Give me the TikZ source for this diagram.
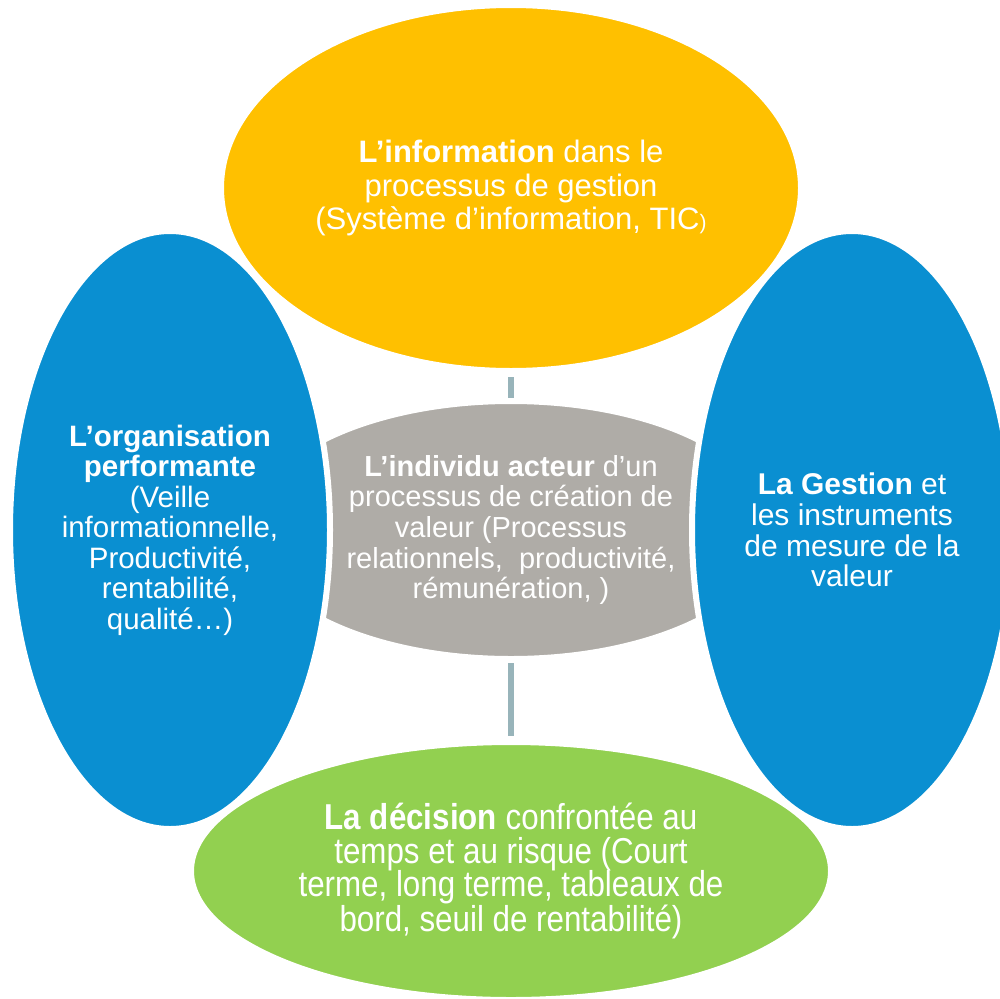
\documentclass[tikz,border=0pt]{standalone}
\usepackage{fontspec}
\setmainfont{Liberation Sans}
\newfontfamily\narrowfont[FakeStretch=0.87]{Liberation Sans}
\usetikzlibrary{shapes.geometric}
\definecolor{cyellow}{HTML}{FFC000}
\definecolor{cblue}{HTML}{0A8FD1}
\definecolor{cgreen}{HTML}{92D050}
\definecolor{cgray}{HTML}{AFACA7}
\definecolor{clink}{HTML}{98B4BA}
\begin{document}
\begin{tikzpicture}[x=1pt,y=-1pt,
  blob/.style={ellipse, draw=white, line width=6pt, inner sep=0pt, text=white, align=center},
  link/.style={draw=clink, line width=6pt}]
\useasboundingbox (0,0) rectangle (1000,998);
\clip (0,0) rectangle (1000,998);
\node[blob, fill=cgray, minimum width=524pt, minimum height=258pt,
  font=\fontsize{29}{30.6}\selectfont] (ind) at (511,530)
  {\textbf{L’individu acteur} d’un\\processus de création de\\valeur (Processus\\relationnels,~ productivité,\\rémunération, )};
\node[blob, fill=cyellow, minimum width=580pt, minimum height=366pt,
  font=\fontsize{31}{33.5}\selectfont] (info) at (511,188)
  {\textbf{L’information} dans le\\processus de gestion\\(Système d’information, TIC{\fontsize{21}{21}\selectfont)}};
\node[blob, fill=cblue, minimum width=320pt, minimum height=598pt,
  font=\fontsize{29.5}{30.5}\selectfont] (org) at (170,530)
  {\textbf{L’organisation}\\\textbf{performante}\\(Veille\\informationnelle,\\Productivité,\\rentabilité,\\qualité…)};
\node[blob, fill=cblue, minimum width=320pt, minimum height=598pt,
  font=\fontsize{30}{30.7}\selectfont] (ges) at (852,530)
  {\textbf{La Gestion} et\\les instruments\\de mesure de la\\valeur};
\node[blob, fill=cgreen, minimum width=640pt, minimum height=258pt,
  font=\narrowfont\fontsize{36}{33.7}\selectfont] (dec) at (511,871)
  {\textbf{La décision} confrontée au\\temps et au risque (Court\\terme, long terme, tableaux de\\bord, seuil de rentabilité)};
\draw[link, shorten <=3pt, shorten >=0pt] (info.south) -- (ind.north);
\draw[link, shorten <=1pt, shorten >=3pt] (ind.south) -- (dec.north);
\end{tikzpicture}
\end{document}
